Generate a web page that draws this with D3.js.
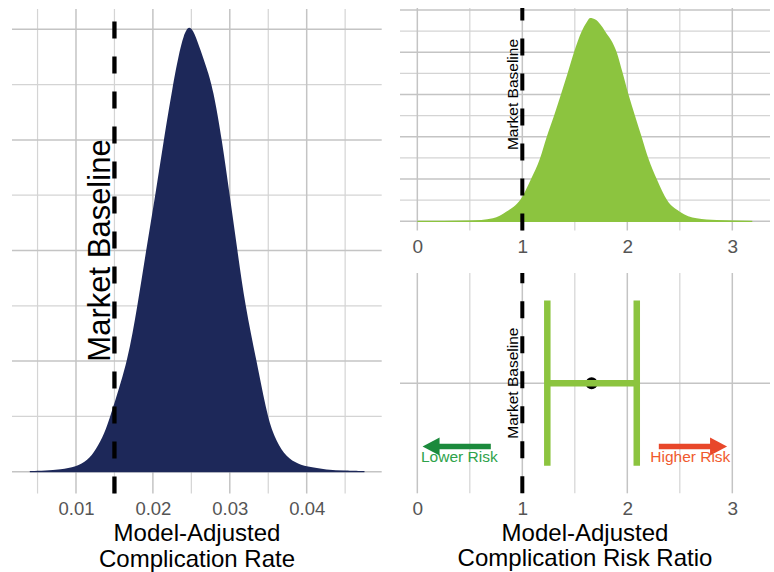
<!DOCTYPE html>
<html>
<head>
<meta charset="utf-8">
<script src="https://cdn.jsdelivr.net/npm/d3@7"></script>
<style>
  body { margin: 0; background: #fff; }
  text { font-family: "Liberation Sans", Arial, sans-serif; }
</style>
</head>
<body>
<div id="chart"></div>
<script>
// data
var rateX = [0.0040, 0.0060, 0.0080, 0.0100, 0.0115, 0.0126, 0.0137, 0.0145, 0.0150, 0.0167, 0.0180, 0.0191,
             0.0203, 0.0214, 0.0226, 0.0233, 0.0240, 0.0247, 0.0254, 0.0262, 0.0270, 0.0278, 0.0290, 0.0300,
             0.0310, 0.0320, 0.0335, 0.0349, 0.0358, 0.0370, 0.0385, 0.0400, 0.0426, 0.0450, 0.0475];
var rateDensity = [0.1, 0.2, 0.4, 0.9, 2.0, 4.0, 6.9, 10.2, 12.5, 19.9, 30.0, 39.9,
                   49.8, 59.9, 69.9, 75.0, 79.0, 80.8, 79.4, 76.2, 73.0, 69.4, 59.9, 49.8,
                   39.9, 30.0, 19.9, 9.9, 6.3, 3.2, 1.6, 0.9, 0.36, 0.18, 0.1];

var riskX = [0.00, 0.25, 0.50, 0.72, 0.85, 1.00, 1.083, 1.169, 1.232, 1.302, 1.369, 1.432, 1.492, 1.566,
             1.61, 1.645, 1.70, 1.74, 1.788, 1.899, 1.956, 2.01, 2.073, 2.137, 2.20, 2.28, 2.381, 2.50,
             2.66, 2.85, 3.00, 3.19];
var riskDensity = [0.002, 0.003, 0.005, 0.021, 0.069, 0.175, 0.30, 0.448, 0.599, 0.75, 0.903, 1.052, 1.20, 1.35,
                   1.41, 1.443, 1.43, 1.40, 1.35, 1.20, 1.052, 0.903, 0.75, 0.599, 0.448, 0.30, 0.147, 0.068,
                   0.021, 0.009, 0.005, 0.003];

var baselineRate = 0.015;
var baselineRatio = 1;
var ratioEstimate = 1.66;
var ratioLow = 1.238;
var ratioHigh = 2.09;

var rateTicks = [0.01, 0.02, 0.03, 0.04];
var rateMinor = [0.005, 0.015, 0.025, 0.035, 0.045];
var rateYMajor = [0, 20, 40, 60, 80];
var rateYMinor = [10, 30, 50, 70];

var ratioTicks = [0, 1, 2, 3];
var ratioMinor = [0.5, 1.5, 2.5];
var riskYMajor = [0, 0.3, 0.6, 0.9, 1.2, 1.5];
var riskYMinor = [0.15, 0.45, 0.75, 1.05, 1.35];

var riskLabels = ["Lower Risk", "Higher Risk"];
var riskArrowFrom = [0.7, 2.3];
var riskArrowTo = [0.05, 2.95];
var riskLabelX = [0.4, 2.6];

var navy = "#1d2859";
var green = "#8cc43f";
var majorCol = "#c4c4c4", minorCol = "#d4d4d4";

var svg = d3.select("#chart").append("svg")
    .attr("width", 774)
    .attr("height", 572);

function grid(g, xs, ys, xMaj, xMin, yMaj, yMin) {
    var x0 = xs.range()[0], x1 = xs.range()[1];
    var y0 = ys.range()[0], y1 = ys.range()[1];
    g.selectAll(".ymin").data(yMin).enter().append("line")
        .attr("x1", x0).attr("x2", x1)
        .attr("y1", function(d) { return ys(d); }).attr("y2", function(d) { return ys(d); })
        .attr("stroke", minorCol).attr("stroke-width", 1.2);
    g.selectAll(".xmin").data(xMin).enter().append("line")
        .attr("y1", y0).attr("y2", y1)
        .attr("x1", function(d) { return xs(d); }).attr("x2", function(d) { return xs(d); })
        .attr("stroke", minorCol).attr("stroke-width", 1.2);
    g.selectAll(".ymaj").data(yMaj).enter().append("line")
        .attr("x1", x0).attr("x2", x1)
        .attr("y1", function(d) { return ys(d); }).attr("y2", function(d) { return ys(d); })
        .attr("stroke", majorCol).attr("stroke-width", 1.5);
    g.selectAll(".xmaj").data(xMaj).enter().append("line")
        .attr("y1", y0).attr("y2", y1)
        .attr("x1", function(d) { return xs(d); }).attr("x2", function(d) { return xs(d); })
        .attr("stroke", majorCol).attr("stroke-width", 1.5);
}

function xAxis(g, xs, ticks, yPos, fmt, pad, size) {
    var ax = g.append("g")
        .attr("transform", "translate(0," + yPos + ")")
        .call(d3.axisBottom(xs).tickValues(ticks).tickSize(0).tickPadding(pad).tickFormat(fmt));
    ax.select(".domain").remove();
    ax.selectAll("text").attr("font-size", size).attr("fill", "#555")
        .attr("font-family", "Liberation Sans, Arial, sans-serif");
}

function vline(g, xs, ys, xv, w) {
    // dash pattern starts at the bottom of the panel, like the reference
    g.append("line")
        .attr("x1", xs(xv)).attr("x2", xs(xv))
        .attr("y1", ys.range()[0]).attr("y2", ys.range()[1])
        .attr("stroke", "#000").attr("stroke-width", w)
        .attr("stroke-dasharray", "17,18");
}

function baseLabel(g, xs, ys, xv, yv, size) {
    g.append("text")
        .attr("transform", "translate(" + (xs(xv) - 4) + "," + ys(yv) + ") rotate(-90)")
        .attr("text-anchor", "middle")
        .attr("font-size", size)
        .attr("fill", "#000")
        .text("Market Baseline");
}

// ---- left panel: complication rate density ----
var x1s = d3.scaleLinear().domain([0.001678, 0.049753]).range([12, 381.7]);
var y1s = d3.scaleLinear().domain([-3.94, 83.67]).range([493.5, 9]);
var g1 = svg.append("g");
grid(g1, x1s, y1s, rateTicks, rateMinor, rateYMajor, rateYMinor);

var rateData = rateX.map(function(d, i) { return {x: d, y: rateDensity[i]}; });
g1.append("path")
    .datum(rateData)
    .attr("fill", navy)
    .attr("d", d3.area()
        .x(function(d) { return x1s(d.x); })
        .y0(y1s(0))
        .y1(function(d) { return y1s(d.y); })
        .curve(d3.curveBasis));
g1.append("line")
    .attr("x1", x1s(rateX[0])).attr("x2", x1s(rateX[rateX.length - 1]))
    .attr("y1", y1s(0)).attr("y2", y1s(0))
    .attr("stroke", navy).attr("stroke-width", 1.2);

vline(g1, x1s, y1s, baselineRate, 4.3);
baseLabel(g1, x1s, y1s, baselineRate, 40, 31);
xAxis(g1, x1s, rateTicks, 493.5, d3.format(".2f"), 8.8, 18.5);

g1.append("text").attr("x", 197).attr("y", 541).attr("text-anchor", "middle")
    .attr("font-size", 24).attr("fill", "#000").text("Model-Adjusted");
g1.append("text").attr("x", 197).attr("y", 567).attr("text-anchor", "middle")
    .attr("font-size", 24).attr("fill", "#000").text("Complication Rate");

// ---- top right: risk ratio density ----
var x2s = d3.scaleLinear().domain([-0.165, 3.359]).range([400, 770]);
var y2s = d3.scaleLinear().domain([-0.0653, 1.5142]).range([230.5, 8]);
var g2 = svg.append("g");
grid(g2, x2s, y2s, ratioTicks, ratioMinor, riskYMajor, riskYMinor);

var riskData = riskX.map(function(d, i) { return {x: d, y: riskDensity[i]}; });
g2.append("path")
    .datum(riskData)
    .attr("fill", green)
    .attr("d", d3.area()
        .x(function(d) { return x2s(d.x); })
        .y0(y2s(0))
        .y1(function(d) { return y2s(d.y); })
        .curve(d3.curveMonotoneX));
g2.append("line")
    .attr("x1", x2s(riskX[0])).attr("x2", x2s(riskX[riskX.length - 1]))
    .attr("y1", y2s(0)).attr("y2", y2s(0))
    .attr("stroke", green).attr("stroke-width", 1.2);

vline(g2, x2s, y2s, baselineRatio, 4);
baseLabel(g2, x2s, y2s, baselineRatio, 0.9, 15.5);
xAxis(g2, x2s, ratioTicks, 230.5, d3.format("d"), 9.2, 19);

// ---- bottom right: estimate with interval ----
var x3s = x2s.copy();
var y3s = d3.scaleLinear().domain([0.4, 1.6]).range([493.3, 273]);
var g3 = svg.append("g");
grid(g3, x3s, y3s, ratioTicks, ratioMinor, [1], []);

vline(g3, x3s, y3s, baselineRatio, 4);
baseLabel(g3, x3s, y3s, baselineRatio, 1, 15.5);

g3.append("circle")
    .attr("cx", x3s(ratioEstimate)).attr("cy", y3s(1)).attr("r", 6)
    .attr("fill", "#000");
var whisk = 0.45;
g3.append("line")
    .attr("x1", x3s(ratioLow)).attr("x2", x3s(ratioHigh))
    .attr("y1", y3s(1)).attr("y2", y3s(1))
    .attr("stroke", green).attr("stroke-width", 6.5);
[ratioLow, ratioHigh].forEach(function(v) {
    g3.append("line")
        .attr("x1", x3s(v)).attr("x2", x3s(v))
        .attr("y1", y3s(1 - whisk)).attr("y2", y3s(1 + whisk))
        .attr("stroke", green).attr("stroke-width", 6.5);
});

var arrowCols = ["#1b8a3c", "#e8472a"];
var textCols = ["#2ea24a", "#f05a2e"];
riskLabels.forEach(function(lab, i) {
    var xa = x3s(riskArrowFrom[i]), xb = x3s(riskArrowTo[i]);
    var yy = y3s(0.655);
    var dir = xb > xa ? 1 : -1;
    var headLen = 17, headHalf = 9;
    g3.append("line")
        .attr("x1", xa).attr("x2", xb - dir * headLen * 0.8)
        .attr("y1", yy).attr("y2", yy)
        .attr("stroke", arrowCols[i]).attr("stroke-width", 5.5);
    g3.append("path")
        .attr("d", "M" + xb + "," + yy + "L" + (xb - dir * headLen) + "," + (yy - headHalf) +
             "L" + (xb - dir * headLen) + "," + (yy + headHalf) + "Z")
        .attr("fill", arrowCols[i]);
    g3.append("text")
        .attr("x", x3s(riskLabelX[i])).attr("y", y3s(0.6) + 5.5)
        .attr("text-anchor", "middle")
        .attr("font-size", 15.5)
        .attr("fill", textCols[i])
        .text(lab);
});

xAxis(g3, x3s, ratioTicks, 493.3, d3.format("d"), 8.3, 19);

g3.append("text").attr("x", 585).attr("y", 541).attr("text-anchor", "middle")
    .attr("font-size", 24).attr("fill", "#000").text("Model-Adjusted");
g3.append("text").attr("x", 585).attr("y", 566).attr("text-anchor", "middle")
    .attr("font-size", 24).attr("fill", "#000").text("Complication Risk Ratio");
</script>
</body>
</html>
